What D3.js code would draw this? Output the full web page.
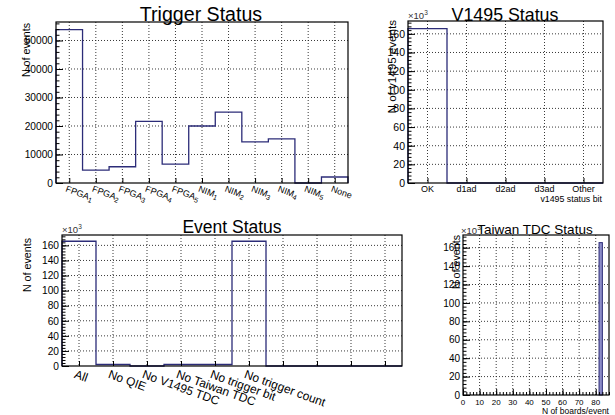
<!DOCTYPE html>
<html><head><meta charset="utf-8">
<script src="https://cdn.jsdelivr.net/npm/d3@7"></script>
<style>
body{margin:0;background:#fff}
svg{display:block;background:#fff}
text{font-family:"Liberation Sans",Arial,Helvetica,sans-serif;fill:#000}
.grid{stroke:#222;stroke-width:0.9;stroke-dasharray:1,2}
</style>
</head><body>
<svg id="c" width="615" height="415"></svg>
<script>
// ---------- data ----------
const triggerLabels = ["FPGA_1","FPGA_2","FPGA_3","FPGA_4","FPGA_5","NIM_1","NIM_2","NIM_3","NIM_4","NIM_5","None"];
const triggerCounts = [53800, 4550, 5700, 21600, 6650, 20000, 24900, 14400, 15500, 0, 2100];
const triggerYTicks = [0, 10000, 20000, 30000, 40000, 50000];

const v1495Labels = ["OK","d1ad","d2ad","d3ad","Other"];
const v1495Counts = [165500, 0, 0, 0, 0];

const eventLabels = ["All","No QIE","No V1495 TDC","No Taiwan TDC","No trigger bit","No trigger count","","","",""];
const eventCounts = [165500, 2000, 0, 2000, 2000, 165500, 0, 0, 0, 0];

const kYTicks = [0, 20000, 40000, 60000, 80000, 100000, 120000, 140000, 160000];

const taiwanXRange = [0, 88];
const taiwanXTicks = [0, 10, 20, 30, 40, 50, 60, 70, 80];
const taiwanBinEdges = [82, 84];
const taiwanCounts = [165500];

// ---------- drawing ----------
const svg = d3.select("#c");
const LINE = "#2c2c78";

function range(a, b, s){ const r=[]; for(let v=a; v<=b+1e-9; v+=s) r.push(v); return r; }

function frameAxes(g, o, x, y){
  g.append("g").selectAll("line").data(o.yTicks.filter(d=>d>0)).join("line")
    .attr("class","grid").attr("x1",o.l).attr("x2",o.r)
    .attr("y1",d=>y(d)).attr("y2",d=>y(d));
  g.append("g").selectAll("line").data(o.xGrid).join("line")
    .attr("class","grid").attr("y1",o.t).attr("y2",o.b)
    .attr("x1",d=>x(d)).attr("x2",d=>x(d));
}

function yAxis(g, o, y){
  const a = g.append("g").attr("transform",`translate(${o.l},0)`)
    .call(d3.axisLeft(y).tickValues(o.yTicks).tickSize(-7).tickPadding(3).tickFormat(o.yFmt));
  a.select(".domain").remove();
  a.attr("font-family",null).attr("font-size",o.yFont||10.2);
  const m = g.append("g").attr("transform",`translate(${o.l},0)`)
    .call(d3.axisLeft(y).tickValues(o.yMinor).tickSize(-3.5).tickFormat(""));
  m.select(".domain").remove();
}

function xTicks(g, o, x, vals, size){
  const a = g.append("g").attr("transform",`translate(0,${o.b})`)
    .call(d3.axisBottom(x).tickValues(vals).tickSize(-size).tickFormat(""));
  a.select(".domain").remove();
  return a;
}

function frame(g, o){
  g.append("rect").attr("x",o.l).attr("y",o.t).attr("width",o.r-o.l).attr("height",o.b-o.t)
    .attr("fill","none").attr("stroke","#000").attr("stroke-width",1.2);
}

function stepPath(g, x, y, edges, counts){
  const pts = [[x(edges[0]), y(0)]];
  counts.forEach((c,i)=>{ pts.push([x(edges[i]), y(c)]); pts.push([x(edges[i+1]), y(c)]); });
  pts.push([x(edges[edges.length-1]), y(0)]);
  g.append("path").attr("d", d3.line()(pts)).attr("fill","none")
    .attr("stroke",LINE).attr("stroke-width",1.3);
}

function title(g, txt, cx, by, size){
  g.append("text").attr("x",cx).attr("y",by).attr("text-anchor","middle")
    .attr("font-size",size).text(txt);
}
function yTitle(g, txt, bx, ty, size){
  g.append("text").attr("transform",`translate(${bx},${ty}) rotate(-90)`)
    .attr("text-anchor","end").attr("font-size",size).text(txt);
}
function exponent(g, xx, by){
  const t = g.append("text").attr("x",xx).attr("y",by).attr("font-size",9.5).style("fill","#333");
  t.append("tspan").text("\u00d710");
  t.append("tspan").attr("dy",-4).attr("font-size",6.5).text("3");
}

// ===== Trigger Status =====
(function(){
  const n = triggerLabels.length;
  const ymax = d3.max(triggerCounts)*1.05;
  const o = {l:56, r:348, t:22, b:183, yTicks:triggerYTicks, yMinor:range(0, ymax, 2000),
             yFmt:d3.format("d"), xGrid:d3.range(n).map(i=>i+0.5)};
  const x = d3.scaleLinear().domain([0,n]).range([o.l,o.r]);
  const y = d3.scaleLinear().domain([0,ymax]).range([o.b,o.t]);
  const g = svg.append("g");
  frameAxes(g,o,x,y);
  stepPath(g,x,y,d3.range(n+1),triggerCounts);
  frame(g,o);
  yAxis(g,o,y);
  xTicks(g,o,x,o.xGrid,5);
  g.append("g").selectAll("text").data(triggerLabels).join("text")
    .attr("transform",(d,i)=>`translate(${x(i+0.5)-2},${o.b+2}) rotate(20)`)
    .attr("font-size",9)
    .each(function(d){
      const p = d.split("_"); const t = d3.select(this);
      t.append("tspan").attr("dy","0.75em").text(p[0]);
      if(p[1]) t.append("tspan").attr("dy","0.3em").attr("font-size",7).text(p[1]);
    });
  title(g,"Trigger Status",201,21,19.6);
  yTitle(g,"N of events",30,23,10.7);
})();

// ===== V1495 Status =====
(function(){
  const n = v1495Labels.length;
  const ymax = d3.max(v1495Counts)*1.05;
  const o = {l:408, r:603, t:21, b:183, yTicks:kYTicks, yMinor:range(0, ymax, 4000),
             yFmt:d=>d/1000, yFont:10.5, xGrid:d3.range(n).map(i=>i+0.5)};
  const x = d3.scaleLinear().domain([0,n]).range([o.l,o.r]);
  const y = d3.scaleLinear().domain([0,ymax]).range([o.b,o.t]);
  const g = svg.append("g");
  frameAxes(g,o,x,y);
  stepPath(g,x,y,d3.range(n+1),v1495Counts);
  frame(g,o);
  yAxis(g,o,y);
  xTicks(g,o,x,o.xGrid,5);
  g.append("g").selectAll("text").data(v1495Labels).join("text")
    .attr("x",(d,i)=>x(i+0.5)).attr("y",191.5).attr("text-anchor","middle")
    .attr("font-size",9).text(d=>d);
  g.append("text").attr("x",602).attr("y",201.5).attr("text-anchor","end")
    .attr("font-size",8.8).text("v1495 status bit");
  exponent(g,408,19);
  title(g,"V1495 Status",505,20.7,17.8);
  yTitle(g,"N of v1495 events",395.5,20,11.6);
})();

// ===== Event Status =====
(function(){
  const n = eventLabels.length;
  const ymax = d3.max(eventCounts)*1.05;
  const o = {l:62, r:402, t:235, b:366, yTicks:kYTicks, yMinor:range(0, ymax, 4000),
             yFmt:d=>d/1000, xGrid:d3.range(n).map(i=>i+0.5)};
  const x = d3.scaleLinear().domain([0,n]).range([o.l,o.r]);
  const y = d3.scaleLinear().domain([0,ymax]).range([o.b,o.t]);
  const g = svg.append("g");
  frameAxes(g,o,x,y);
  stepPath(g,x,y,d3.range(n+1),eventCounts);
  frame(g,o);
  yAxis(g,o,y);
  xTicks(g,o,x,o.xGrid,5);
  g.append("g").selectAll("text").data(eventLabels).join("text")
    .attr("transform",(d,i)=>`translate(${x(i+0.5)-2.5},${o.b+3}) rotate(20)`)
    .attr("dy","0.75em").attr("font-size",12).text(d=>d);
  exponent(g,62,232.5);
  title(g,"Event Status",232,233.3,17.5);
  yTitle(g,"N of events",31,238,10.7);
})();

// ===== Taiwan TDC Status =====
(function(){
  const ymax = d3.max(taiwanCounts)*1.05;
  const o = {l:463, r:609, t:235, b:395, yTicks:kYTicks, yMinor:range(0, ymax, 4000),
             yFmt:d=>d/1000, yFont:10, xGrid:taiwanXTicks.filter(d=>d>0)};
  const x = d3.scaleLinear().domain(taiwanXRange).range([o.l,o.r]);
  const y = d3.scaleLinear().domain([0,ymax]).range([o.b,o.t]);
  const g = svg.append("g");
  frameAxes(g,o,x,y);
  g.append("g").selectAll("rect").data(taiwanCounts).join("rect")
    .attr("x",(d,i)=>x(taiwanBinEdges[i])).attr("width",(d,i)=>x(taiwanBinEdges[i+1])-x(taiwanBinEdges[i]))
    .attr("y",d=>y(d)).attr("height",d=>y(0)-y(d))
    .attr("fill","#8c8cc8").attr("stroke",LINE).attr("stroke-width",1);
  frame(g,o);
  yAxis(g,o,y);
  xTicks(g,o,x,taiwanXTicks,6);
  xTicks(g,o,x,range(0,88,2),3);
  g.append("g").selectAll("text").data(taiwanXTicks).join("text")
    .attr("x",d=>x(d)).attr("y",405).attr("text-anchor","middle")
    .attr("font-size",8).text(d=>d);
  g.append("text").attr("x",609).attr("y",413.5).attr("text-anchor","end")
    .attr("font-size",8.5).text("N of boards/event");
  exponent(g,461,234);
  title(g,"Taiwan TDC Status",535,234,13.5);
  yTitle(g,"N of events",459.5,235,10.7);
})();
</script>
</body></html>
